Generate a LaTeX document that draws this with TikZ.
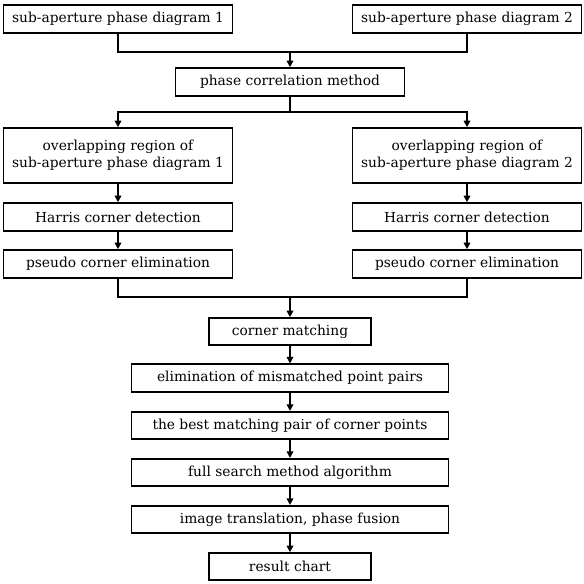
\documentclass[tikz,border=0pt]{standalone}
\usepackage{fontspec}
\setmainfont{DejaVu Serif}
\usetikzlibrary{arrows.meta}
\begin{document}
\begin{tikzpicture}[x=1pt,y=-1pt,
  box/.style={draw,line width=1.6pt,inner sep=0pt,align=center,font=\fontsize{13.8}{16.5}\selectfont},
  wbox/.style={box,minimum width=229pt,minimum height=28pt},
  cbox/.style={box,minimum width=317pt,minimum height=27.5pt},
  sbox/.style={box,minimum width=162pt,minimum height=27pt},
  line/.style={line width=1.6pt},
  arr/.style={line,-{Triangle[length=6.5pt,width=6.5pt]}}]
\useasboundingbox (0,0) rectangle (584,584);
\node[wbox] (b1) at (118,19) {sub-aperture phase diagram 1};
\node[wbox] (b2) at (467,19) {sub-aperture phase diagram 2};
\node[wbox] (pc) at (290,82) {phase correlation method};
\node[wbox,minimum height=55pt] (o1) at (118,155.5) {overlapping region of\\sub-aperture phase diagram 1};
\node[wbox,minimum height=55pt] (o2) at (467,155.5) {overlapping region of\\sub-aperture phase diagram 2};
\node[wbox] (h1) at (118,217) {Harris corner detection};
\node[wbox] (h2) at (467,217) {Harris corner detection};
\node[wbox] (p1) at (118,264) {pseudo corner elimination};
\node[wbox] (p2) at (467,264) {pseudo corner elimination};
\node[sbox] (cm) at (290,331.5) {corner matching};
\node[cbox] (em) at (290,378) {elimination of mismatched point pairs};
\node[cbox] (bm) at (290,425.5) {the best matching pair of corner points};
\node[cbox] (fs) at (290,472.5) {full search method algorithm};
\node[cbox] (it) at (290,519.5) {image translation, phase fusion};
\node[sbox] (rc) at (290,566.5) {result chart};
\coordinate (j1) at (290,52);
\coordinate (j2) at (290,112);
\coordinate (j3) at (290,297);
\draw[line] (b1.south) |- (j1);
\draw[line] (b2.south) |- (j1);
\draw[arr] (j1) -- (pc.north);
\draw[line] (pc.south) -- (j2);
\draw[arr] (j2) -| (o1.north);
\draw[arr] (j2) -| (o2.north);
\draw[arr] (o1) -- (h1);
\draw[arr] (o2) -- (h2);
\draw[arr] (h1) -- (p1);
\draw[arr] (h2) -- (p2);
\draw[line] (p1.south) |- (j3);
\draw[line] (p2.south) |- (j3);
\draw[arr] (j3) -- (cm.north);
\draw[arr] (cm) -- (em);
\draw[arr] (em) -- (bm);
\draw[arr] (bm) -- (fs);
\draw[arr] (fs) -- (it);
\draw[arr] (it) -- (rc);
\end{tikzpicture}
\end{document}
